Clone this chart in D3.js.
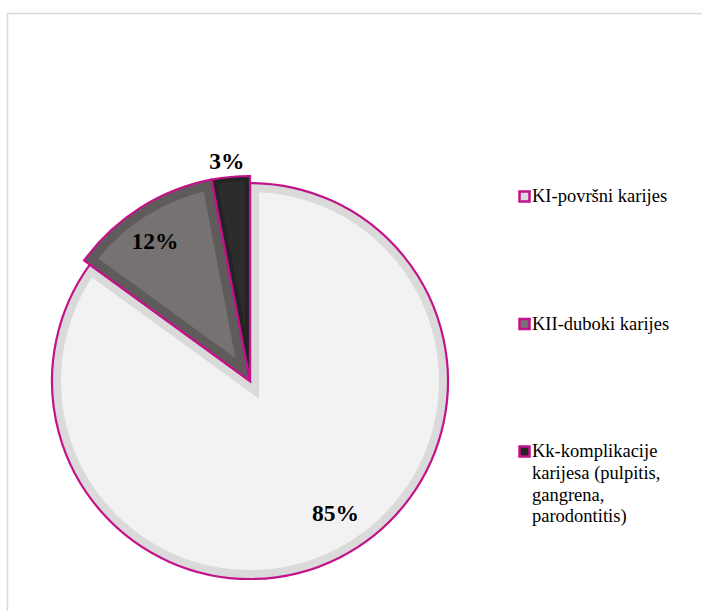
<!DOCTYPE html>
<html>
<head>
<meta charset="utf-8">
<script src="https://cdn.jsdelivr.net/npm/d3@7"></script>
<style>
  html, body { margin: 0; padding: 0; background: #ffffff; }
  svg { display: block; }
  text { font-family: "Times New Roman", "Liberation Serif", Tinos, serif; }
</style>
</head>
<body>
<svg id="chart" width="702" height="611"></svg>
<script>
// Caries categories and their shares (%)
const categories = ["KI-površni karijes", "KII-duboki karijes", "Kk-komplikacije karijesa (pulpitis, gangrena, parodontitis)"];
const legendLines = [["KI-površni karijes"], ["KII-duboki karijes"], ["Kk-komplikacije", "karijesa (pulpitis,", "gangrena,", "parodontitis)"]];
const values = [85, 12, 3];
const labels = ["85%", "12%", "3%"];

// Styling per slice: face colour, bevel band colour, legend swatch colour
const faceColors = ["#f2f2f2", "#767272", "#2c2c2c"];
const bandColors = ["#dadada", "#5f5b5b", "#232323"];
const swatchColors = ["#dadada", "#767272", "#262626"];
const accent = "#c4128a";

const svg = d3.select("#chart");

// chart area frame
svg.append("rect")
  .attr("x", 7.5).attr("y", 13.5)
  .attr("width", 720).attr("height", 620)
  .attr("fill", "#ffffff")
  .attr("stroke", "#d9d9d9")
  .attr("stroke-width", 1.5);

const cx = 250, cy = 381;
const outerR = [198, 205, 205];
const bandW = [9, 10, 5];
// label placement: angle (deg, clockwise from top) and distance from the pie centre
const labelAngle = [147, 326, 354];
const labelDist = [157, 170, 222];

const pie = d3.pie().sort(null).value(d => d);
const arcs = pie(values);

const defs = svg.append("defs");

arcs.forEach((a, i) => {
  const arcGen = d3.arc().innerRadius(0).outerRadius(outerR[i]);
  const d = arcGen(a);
  const tr = `translate(${cx},${cy})`;
  const clipId = "clip" + i;
  defs.append("clipPath").attr("id", clipId)
    .append("path").attr("d", d).attr("transform", tr);

  const sg = svg.append("g");
  // face
  sg.append("path").attr("d", d).attr("transform", tr)
    .attr("fill", faceColors[i]);
  // inner bevel band, clipped to the slice
  sg.append("g").attr("clip-path", `url(#${clipId})`)
    .append("path").attr("d", d).attr("transform", tr)
    .attr("fill", "none")
    .attr("stroke", bandColors[i])
    .attr("stroke-width", bandW[i] * 2)
    .attr("stroke-linejoin", "miter");
  // outline
  sg.append("path").attr("d", d).attr("transform", tr)
    .attr("fill", "none")
    .attr("stroke", accent)
    .attr("stroke-width", 2.2)
    .attr("stroke-linejoin", "miter");
});

// value labels
arcs.forEach((a, i) => {
  const ang = labelAngle[i] * Math.PI / 180;
  const x = cx + Math.sin(ang) * labelDist[i];
  const y = cy - Math.cos(ang) * labelDist[i];
  svg.append("text")
    .attr("x", x).attr("y", y + 8.5)
    .attr("text-anchor", "middle")
    .attr("font-weight", "bold")
    .attr("font-size", 23.5)
    .attr("fill", "#000000")
    .text(labels[i]);
});

// legend
const legendBase = [202, 329.5, 457];
const lineGap = 21.8;
const legend = svg.append("g");
legendLines.forEach((lines, i) => {
  legend.append("rect")
    .attr("x", 519.5).attr("y", legendBase[i] - 10.5)
    .attr("width", 10).attr("height", 10)
    .attr("fill", swatchColors[i])
    .attr("stroke", accent)
    .attr("stroke-width", 2.5);
  const t = legend.append("text")
    .attr("x", 532).attr("y", legendBase[i])
    .attr("font-size", 18.5)
    .attr("fill", "#000000");
  lines.forEach((ln, k) => {
    t.append("tspan").attr("x", 532).attr("dy", k === 0 ? 0 : lineGap).text(ln);
  });
});
</script>
</body>
</html>
